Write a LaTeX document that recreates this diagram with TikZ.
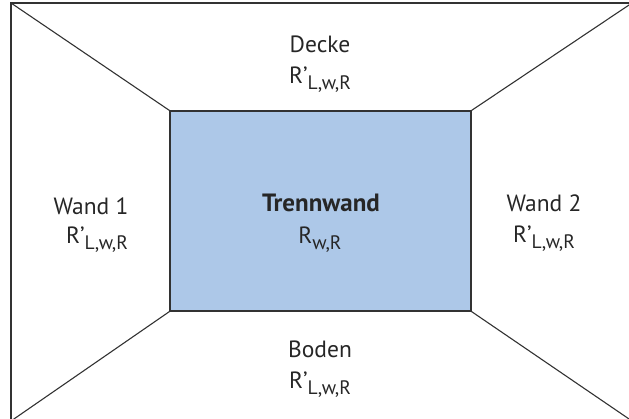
\documentclass[tikz,border=0pt]{standalone}
\usepackage{fontspec}
\setmainfont{PT Sans}
\definecolor{wallblue}{RGB}{173,200,232}
\definecolor{linegray}{RGB}{50,50,50}
\newcommand{\mysubR}[1]{R\raisebox{-6.5pt}{\fontsize{19.5}{20}\selectfont #1}}
\newcommand{\myprimeR}[1]{R’\raisebox{-6.5pt}{\fontsize{19.5}{20}\selectfont #1}}
\begin{document}
\begin{tikzpicture}[x=1pt,y=-1pt,
  edge/.style={draw=linegray,line width=1.1pt},
  lbl/.style={anchor=base,inner sep=0pt,font=\fontsize{23.5}{27}\selectfont,text=black!85}]
\useasboundingbox (0,0) rectangle (629,418);
\clip (0,0) rectangle (629,418);
\coordinate (otl) at (11,3);
\coordinate (otr) at (632,3);
\coordinate (obl) at (11,421);
\coordinate (obr) at (632,421);
\draw[edge] (otl) rectangle (obr);
\node[edge,fill=wallblue,minimum width=301pt,minimum height=200pt,inner sep=0pt] (wall) at (320.5,211) {};
\draw[edge] (otl) -- (wall.north west);
\draw[edge] (otr) -- (wall.north east);
\draw[edge] (obl) -- (wall.south west);
\draw[edge] (obr) -- (wall.south east);
% labels
\node[lbl] (decke) at (320,52) {Decke};
\node[lbl] (deckeR) at (320,83) {\myprimeR{L,w,R}};
\node[lbl] (wand1) at (91,214) {Wand 1};
\node[lbl] (wand1R) at (97,243) {\myprimeR{L,w,R}};
\node[lbl,font=\fontsize{25}{28}\selectfont\bfseries] (trenn) at (321,211) {Trennwand};
\node[lbl] (trennR) at (320,243) {\mysubR{w,R}};
\node[lbl] (wand2) at (544,211) {Wand 2};
\node[lbl] (wand2R) at (544,242) {\myprimeR{L,w,R}};
\node[lbl] (boden) at (320,357) {Boden};
\node[lbl] (bodenR) at (320,388) {\myprimeR{L,w,R}};
\end{tikzpicture}
\end{document}
